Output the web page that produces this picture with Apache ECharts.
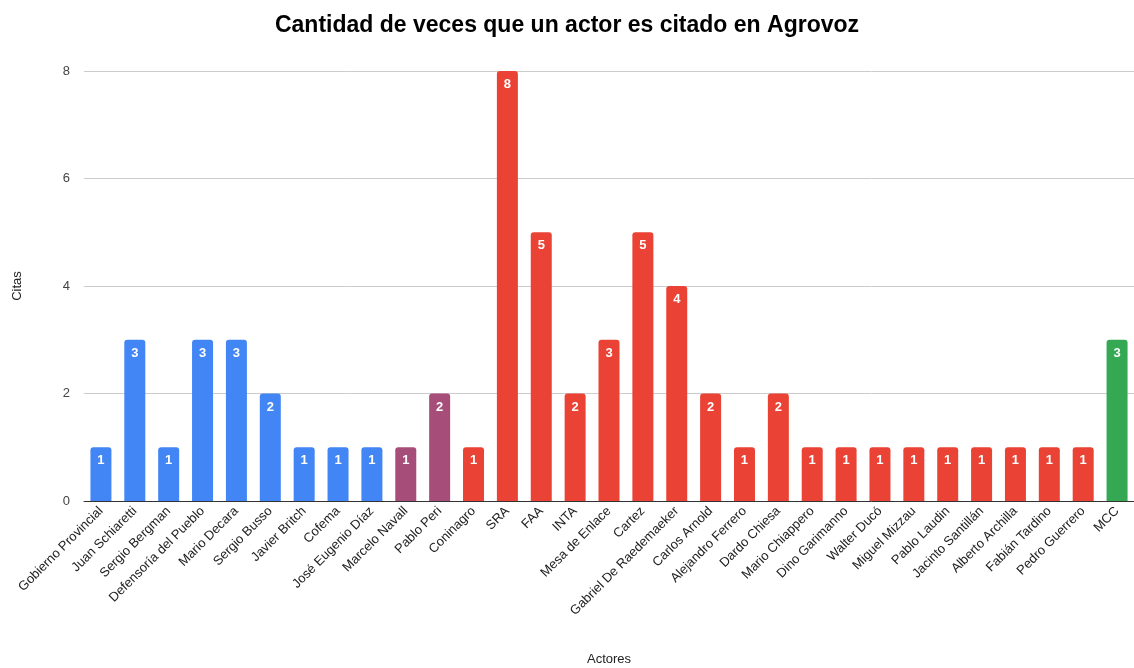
<!DOCTYPE html>
<html>
<head>
<meta charset="utf-8">
<script src="https://cdn.jsdelivr.net/npm/echarts@6/dist/echarts.min.js"></script>
<style>html,body{margin:0;padding:0;background:#fff}#c{width:1134px;height:668px}</style>
</head>
<body>
<div id="c"></div>
<script>
const categories = ["Gobierno Provincial","Juan Schiaretti","Sergio Bergman","Defensoría del Pueblo","Mario Decara","Sergio Busso","Javier Britch","Cofema","José Eugenio Díaz","Marcelo Navall","Pablo Peri","Coninagro","SRA","FAA","INTA","Mesa de Enlace","Cartez","Gabriel De Raedemaeker","Carlos Arnold","Alejandro Ferrero","Dardo Chiesa","Mario Chiappero","Dino Garimanno","Walter Ducó","Miguel Mizzau","Pablo Laudin","Jacinto Santillán","Alberto Archilla","Fabián Tardino","Pedro Guerrero","MCC"];
const values = [1,3,1,3,3,2,1,1,1,1,2,1,8,5,2,3,5,4,2,1,2,1,1,1,1,1,1,1,1,1,3];
const groups = ["b","b","b","b","b","b","b","b","b","p","p","r","r","r","r","r","r","r","r","r","r","r","r","r","r","r","r","r","r","r","g"];
const groupColors = {b:"#4285F4", p:"#A64D79", r:"#EA4335", g:"#34A853"};
const yTicks = [0,2,4,6,8];

const chart = echarts.init(document.getElementById('c'));
chart.setOption({
  animation:false,
  title:{text:"Cantidad de veces que un actor es citado en Agrovoz",left:'center',top:9,
    textStyle:{fontFamily:'Liberation Sans, Arial',fontSize:23,fontWeight:'bold',color:'#000'}},
  grid:{left:84,right:0,top:71,bottom:167,outerBoundsMode:'none',containLabel:false},
  xAxis:{type:'category',data:categories,
    name:'Actores',nameLocation:'middle',nameGap:152,
    nameTextStyle:{fontFamily:'Liberation Sans, Arial',fontSize:13,color:'#222'},
    axisLine:{lineStyle:{color:'#333'}},axisTick:{show:false},
    axisLabel:{interval:0,rotate:45,fontFamily:'Liberation Sans, Arial',fontSize:13,color:'#222',margin:8}},
  yAxis:{type:'value',min:yTicks[0],max:yTicks[yTicks.length-1],interval:2,
    name:'Citas',nameLocation:'middle',nameGap:60,nameRotate:90,
    nameTextStyle:{fontFamily:'Liberation Sans, Arial',fontSize:13,color:'#222'},
    axisLine:{show:false},axisTick:{show:false},
    axisLabel:{fontFamily:'Liberation Sans, Arial',fontSize:13,color:'#444',margin:14},
    splitLine:{lineStyle:{color:'#cccccc'}}},
  series:[{type:'bar',barWidth:21,
    data:values.map((v,i)=>({value:v,itemStyle:{color:groupColors[groups[i]],borderRadius:[3,3,0,0]}})),
    label:{show:true,position:'insideTop',distance:7,color:'#fff',fontWeight:'bold',fontSize:13,fontFamily:'Liberation Sans, Arial'}
  }]
});
</script>
</body>
</html>
